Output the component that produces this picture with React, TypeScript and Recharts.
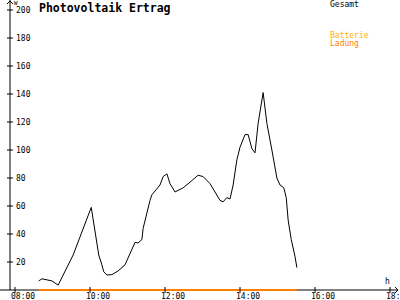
import { LineChart, Line, XAxis, YAxis } from 'recharts'

// Uhrzeit der Messpunkte
const times = [
  '08:38', '08:43', '08:59', '09:09', '09:33', '10:02', '10:14', '10:19', '10:22', '10:27',
  '10:35', '10:45', '10:56', '11:12', '11:17', '11:23', '11:25', '11:36', '11:39', '11:52',
  '11:57', '12:03', '12:08', '12:16', '12:29', '12:40', '12:53', '13:01', '13:12', '13:20',
  '13:28', '13:33', '13:39', '13:44', '13:49', '13:55', '14:00', '14:08', '14:13', '14:19',
  '14:24', '14:29', '14:37', '14:43', '14:51', '14:59', '15:04', '15:10', '15:14', '15:17',
  '15:22', '15:28', '15:31',
]
// Gesamt (W)
const gesamt = [
  6.5, 8, 6.5, 3.5, 25, 59, 25, 18, 13, 10.7,
  11, 13.6, 18, 34, 33.6, 36, 44, 64, 68, 75,
  81, 83, 76, 70, 73, 77, 82, 81, 76, 70,
  64, 63, 66, 65, 75, 93, 102, 111, 111, 101,
  98, 119, 141, 119, 100, 80, 75, 73, 66, 50,
  36, 24, 16,
]
// Batterie Ladung (W)
const ladungTimes = ['08:38', '15:31']
const ladung = [0, 0]

const yTicks = [20, 40, 60, 80, 100, 120, 140, 160, 180, 200]
const xTicks = ['08:00', '10:00', '12:00', '14:00', '16:00', '18:00']

const toMin = (s: string) => {
  const [h, m] = s.split(':').map(Number)
  return h * 60 + m
}

const data = times.map((t, i) => {
  const li = ladungTimes.indexOf(t)
  return { t: toMin(t), gesamt: gesamt[i], ladung: li >= 0 ? ladung[li] : null }
})

const FONT = '"DejaVu Sans Mono", monospace'

const YTick = (props: any) => {
  const { x, y, payload } = props
  return (
    <g>
      <line x1={x - 3} x2={x + 3} y1={y} y2={y} stroke="#000" />
      <text x={x + 6} y={y + 3} fontSize={8} fontFamily={FONT} fill="#000">
        {payload.value}
      </text>
    </g>
  )
}

const XTick = (props: any) => {
  const { x, y, payload } = props
  const h = Math.floor(payload.value / 60)
  const label = `${String(h).padStart(2, '0')}:00`
  return (
    <g>
      <line x1={x} x2={x} y1={y - 3} y2={y + 3} stroke="#000" />
      <text x={x - 4} y={y + 9} fontSize={8} fontFamily={FONT} fill="#000">
        {label}
      </text>
    </g>
  )
}

export default function App() {
  return (
    <div style={{ position: 'absolute', left: 0, top: 0, width: 400, height: 300, background: '#fff', overflow: 'hidden' }}>
      <LineChart width={400} height={300} data={data} margin={{ top: 10, right: 10, bottom: 9, left: 9 }}>
        <XAxis
          type="number"
          dataKey="t"
          domain={[472, 1080]}
          ticks={xTicks.map(toMin)}
          height={1}
          tickSize={0}
          tickMargin={0}
          tickLine={false}
          axisLine={{ stroke: '#000' }}
          tick={<XTick />}
          interval={0}
          allowDataOverflow
        />
        <YAxis
          type="number"
          domain={[0, 200]}
          ticks={yTicks}
          width={1}
          tickSize={0}
          tickMargin={0}
          tickLine={false}
          axisLine={{ stroke: '#000' }}
          tick={<YTick />}
          interval={0}
        />
        <Line
          type="linear"
          dataKey="gesamt"
          stroke="#000"
          strokeWidth={1}
          dot={false}
          isAnimationActive={false}
        />
        <Line
          type="linear"
          dataKey="ladung"
          stroke="#ff8000"
          strokeWidth={2}
          dot={false}
          connectNulls
          zIndex={800}
          isAnimationActive={false}
        />
      </LineChart>
      <svg
        width={400}
        height={300}
        style={{ position: 'absolute', left: 0, top: 0, pointerEvents: 'none' }}
      >
        {/* Achsen-Verlängerungen und Pfeile */}
        <line x1={10} x2={10} y1={0} y2={10} stroke="#000" />
        <polyline points="7,4 10,1 13,4" fill="none" stroke="#000" />
        <text x={14} y={5} fontSize={6} fontFamily={FONT}>W</text>
        <line x1={0} x2={10} y1={290} y2={290} stroke="#000" />
        <line x1={390} x2={398} y1={290} y2={290} stroke="#000" />
        <polyline points="395,287 398,290 395,293" fill="none" stroke="#000" />
        <text x={385} y={284} fontSize={8} fontFamily={FONT}>h</text>
        <text x={39} y={11.5} fontSize={11.5} fontWeight="bold" fontFamily={FONT}>
          Photovoltaik Ertrag
        </text>
        <text x={330} y={7} fontSize={8} fontFamily={FONT} fill="#000">Gesamt</text>
        <text x={330} y={38} fontSize={8} fontFamily={FONT} fill="#ffb000">Batterie</text>
        <text x={330} y={46} fontSize={8} fontFamily={FONT} fill="#ff8000">Ladung</text>
      </svg>
    </div>
  )
}
